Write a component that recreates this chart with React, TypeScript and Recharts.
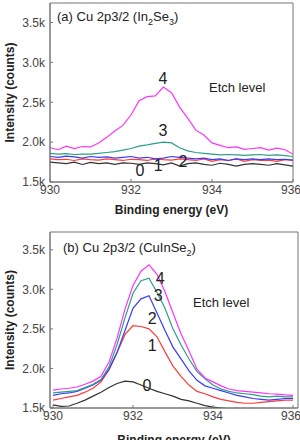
import { LineChart, Line, XAxis, YAxis, ReferenceArea, ReferenceDot } from "recharts";

// binding energy grid (eV)
const energy = [
  930, 930.2, 930.4, 930.6, 930.8, 931, 931.2, 931.4, 931.6, 931.8, 932, 932.2, 932.4, 932.6, 932.8,
  933, 933.2, 933.4, 933.6, 933.8, 934, 934.2, 934.4, 934.6, 934.8, 935, 935.2, 935.4, 935.6, 935.8, 936,
];

// (a) In2Se3, etch levels 0..4
const a0 = [1750, 1740, 1730, 1750, 1720, 1745, 1730, 1740, 1720, 1740, 1735, 1720, 1740, 1730, 1715, 1740, 1700, 1730, 1740, 1720, 1710, 1735, 1720, 1700, 1720, 1730, 1720, 1710, 1730, 1715, 1700];
const a1 = [1790, 1780, 1785, 1770, 1790, 1780, 1775, 1790, 1780, 1770, 1785, 1780, 1770, 1790, 1780, 1775, 1790, 1780, 1770, 1790, 1760, 1780, 1770, 1790, 1760, 1780, 1770, 1775, 1760, 1780, 1770];
const a2 = [1820, 1810, 1825, 1815, 1800, 1820, 1810, 1815, 1800, 1810, 1820, 1800, 1810, 1790, 1800, 1820, 1810, 1800, 1790, 1800, 1780, 1790, 1770, 1790, 1780, 1790, 1780, 1790, 1780, 1785, 1775];
const a3 = [1860, 1850, 1855, 1845, 1850, 1850, 1860, 1870, 1880, 1900, 1920, 1950, 1965, 1985, 2000, 1990, 1930, 1890, 1870, 1860, 1850, 1840, 1845, 1840, 1835, 1840, 1845, 1835, 1840, 1830, 1820];
const a4 = [1930, 1905, 1950, 1920, 1945, 1940, 1990, 2060, 2140, 2210, 2340, 2520, 2570, 2580, 2690, 2620, 2440, 2300, 2150, 2090, 1990, 1960, 1930, 1940, 1910, 1920, 1930, 1900, 1925, 1905, 1850];

// (b) CuInSe2, etch levels 0..4
const b0 = [1540, 1520, 1525, 1560, 1600, 1650, 1700, 1760, 1810, 1840, 1830, 1790, 1750, 1710, 1680, 1650, 1610, 1590, 1560, 1530, 1510, 1500, 1490, 1495, 1480, 1490, 1485, 1480, 1490, 1480, 1485];
const b1 = [1600, 1620, 1640, 1660, 1700, 1750, 1830, 1980, 2200, 2430, 2540, 2530, 2500, 2400, 2210, 2030, 1900, 1790, 1710, 1680, 1640, 1610, 1590, 1570, 1560, 1560, 1570, 1580, 1590, 1600, 1600];
const b2 = [1660, 1680, 1690, 1710, 1750, 1790, 1850, 1990, 2200, 2480, 2760, 2880, 2920, 2700, 2480, 2270, 2120, 1970, 1850, 1780, 1750, 1720, 1690, 1660, 1640, 1620, 1610, 1600, 1610, 1620, 1620];
const b3 = [1690, 1700, 1710, 1720, 1760, 1800, 1860, 2020, 2300, 2640, 2950, 3110, 3140, 2960, 2760, 2500, 2300, 2120, 1960, 1870, 1790, 1740, 1710, 1690, 1680, 1670, 1650, 1640, 1650, 1640, 1640];
const b4 = [1725, 1740, 1750, 1765, 1800, 1840, 1900, 2080, 2380, 2750, 3050, 3230, 3310, 3190, 2970, 2700, 2440, 2220, 1990, 1880, 1830, 1780, 1740, 1720, 1710, 1700, 1690, 1680, 1675, 1665, 1660];

const yTicks = [1500, 2000, 2500, 3000, 3500];
const xTicks = [930, 932, 934, 936];
const levels = ["0", "1", "2", "3", "4"];
const colors = ["#333333", "#ff3b3b", "#3a3aff", "#2e9e8c", "#ff33ff"];

// where the etch level numbers sit (energy, counts)
const aLabelPos = [[932.22, 1650], [932.67, 1712], [933.28, 1762], [932.79, 2150], [932.79, 2800]];
const bLabelPos = [[932.35, 1787], [932.48, 2287], [932.48, 2637], [932.63, 2925], [932.68, 3137]];

const font = "'Liberation Sans', Arial, sans-serif";
const axisColor = "#777";

const buildRows = (series: number[][]) =>
  energy.map((e, i) => {
    const row: Record<string, number> = { e };
    series.forEach((s, k) => (row["s" + k] = s[i]));
    return row;
  });

const fmtK = (v: number) => (v / 1000).toFixed(1) + "k";

function Panel({
  rows,
  xDomain,
  yDomain,
  labelPos,
  top,
  bottom,
  right,
  labelOffset,
}: {
  rows: Record<string, number>[];
  xDomain: [number, number];
  yDomain: [number, number];
  labelPos: number[][];
  top: number;
  bottom: number;
  right: number;
  labelOffset: number;
}) {
  return (
    <LineChart width={300} height={220} data={rows} margin={{ top, right, left: 0, bottom: 0 }} style={{ fontFamily: font }}>
      <XAxis
        dataKey="e"
        type="number"
        domain={xDomain}
        ticks={xTicks}
        allowDataOverflow
        height={bottom}
        stroke={axisColor}
        tickSize={-3}
        tickMargin={6}
        tick={{ fill: "#444", fontSize: 12 }}
        label={{ value: "Binding energy (eV)", position: "insideBottom", offset: labelOffset, fill: "#222", fontSize: 12, fontWeight: "bold" }}
      />
      <YAxis
        type="number"
        domain={yDomain}
        ticks={yTicks}
        allowDataOverflow
        width={50}
        stroke={axisColor}
        tickSize={-3}
        tickMargin={8}
        tickFormatter={fmtK}
        tick={{ fill: "#444", fontSize: 12 }}
        label={{ value: "Intensity (counts)", angle: -90, position: "insideLeft", offset: 10, fill: "#222", fontSize: 12, fontWeight: "bold", style: { textAnchor: "middle" } }}
      />
      <ReferenceArea x1={xDomain[0]} x2={xDomain[1]} y1={yDomain[0]} y2={yDomain[1]} fill="none" stroke={axisColor} />
      {levels.map((lv, k) => (
        <Line key={lv} dataKey={"s" + k} stroke={colors[k]} strokeWidth={1.2} dot={false} isAnimationActive={false} />
      ))}
      {labelPos.map(([x, y], k) => (
        <ReferenceDot
          key={"l" + k}
          x={x}
          y={y}
          r={0}
          stroke="none"
          label={{ value: levels[k], position: "center", fill: "#222", fontSize: 16 }}
        />
      ))}
    </LineChart>
  );
}

export default function App() {
  const note = { position: "absolute" as const, fontFamily: font, fontSize: 13, color: "#222", whiteSpace: "nowrap" as const };
  return (
    <div style={{ position: "absolute", left: 0, top: 0, width: 300, height: 440, background: "#fff" }}>
      <div style={{ position: "absolute", left: 0, top: 0 }}>
        <Panel rows={buildRows([a0, a1, a2, a3, a4])} xDomain={[930, 936]} yDomain={[1500, 3745]} labelPos={aLabelPos} top={3} bottom={38} right={7} labelOffset={6} />
      </div>
      <div style={{ position: "absolute", left: 0, top: 220 }}>
        <Panel rows={buildRows([b0, b1, b2, b3, b4])} xDomain={[929.925, 936.125]} yDomain={[1500, 3725]} labelPos={bLabelPos} top={12} bottom={32} right={2} labelOffset={-4} />
      </div>
      <div style={{ ...note, left: 57, top: 9 }}>
        (a) Cu 2p3/2 (In<sub style={{ fontSize: 9 }}>2</sub>Se<sub style={{ fontSize: 9 }}>3</sub>)
      </div>
      <div style={{ ...note, left: 209, top: 80 }}>Etch level</div>
      <div style={{ ...note, left: 63, top: 240 }}>
        (b) Cu 2p3/2 (CuInSe<sub style={{ fontSize: 9 }}>2</sub>)
      </div>
      <div style={{ ...note, left: 193, top: 295 }}>Etch level</div>
    </div>
  );
}
